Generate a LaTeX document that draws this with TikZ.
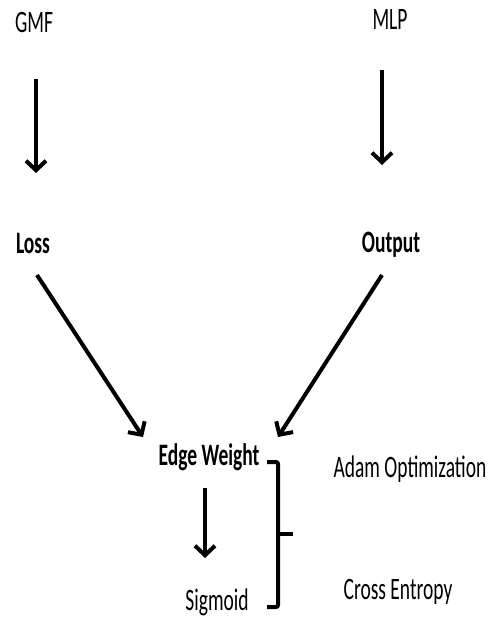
\documentclass[tikz,border=0pt]{standalone}
\usepackage{fontspec}
\setmainfont{Carlito}
\usetikzlibrary{arrows.meta}

\tikzset{
  lbl/.style={anchor=base, inner sep=0pt, font=\fontsize{19.5}{20}\selectfont, text=black},
  blbl/.style={lbl, font=\fontsize{19.5}{20}\selectfont\bfseries},
  arr/.style={line width=4pt, draw=black,
    -{Straight Barb[length=9.5pt,width=20pt,line width=4pt]}},
  brk/.style={line width=4pt, draw=black, rounded corners=2pt, line cap=butt}
}
\newcommand{\tall}[1]{\scalebox{1}[1.6]{#1}}

\begin{document}
\begin{tikzpicture}[x=1pt, y=-1pt]
  \useasboundingbox (0,0) rectangle (496,623);

  % labels
  \node[lbl]  (gmf)     at (34,33)   {\tall{GMF}};
  \node[lbl]  (mlp)     at (390,30)  {\tall{MLP}};
  \node[blbl] (loss)    at (33,253)  {\tall{Loss}};
  \node[blbl] (output)  at (391,252) {\tall{Output}};
  \node[blbl] (edge)    at (209,465) {\tall{Edge Weight}};
  \node[lbl]  (sigmoid) at (217,610) {\tall{Sigmoid}};
  \node[lbl]  (adam)    at (410,477) {\tall{Adam Optimization}};
  \node[lbl]  (cross)   at (398,599) {\tall{Cross Entropy}};

  % arrows
  \draw[arr] ([shift={(2,46)}]gmf.base)   -- ([shift={(3,-80)}]loss.base);
  \draw[arr] ([shift={(-8,40)}]mlp.base)  -- ([shift={(-9,-87)}]output.base);
  \draw[arr] ([shift={(4,22)}]loss.base)  -- ([shift={(-66,-28)}]edge.base);
  \draw[arr] ([shift={(-9,23)}]output.base) -- ([shift={(69,-28)}]edge.base);
  \draw[arr] ([shift={(-4,23)}]edge.base) -- ([shift={(-12,-52)}]sigmoid.base);

  % bracket grouping Edge Weight and Sigmoid
  \coordinate (btop) at ([shift={(58,-3)}]edge.base);
  \coordinate (bbot) at ([shift={(50,-3)}]sigmoid.base);
  \coordinate (bmid) at (278,534);
  \draw[brk] (btop) -- (278,462) -- (278,607) -- (bbot);
  \draw[brk] (bmid) -- ++(15,0);
\end{tikzpicture}
\end{document}
